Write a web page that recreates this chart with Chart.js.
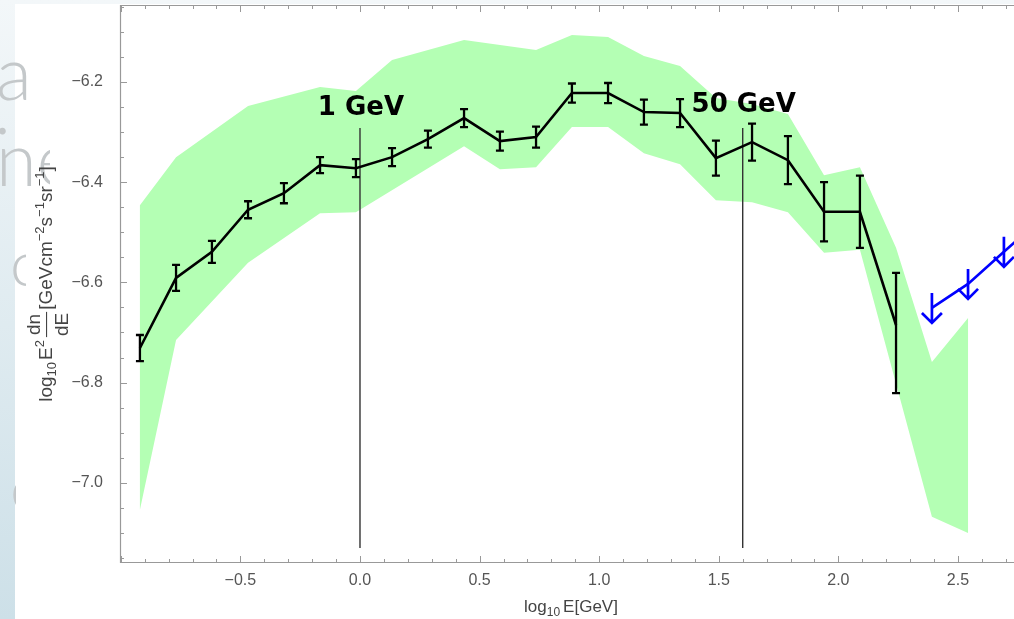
<!DOCTYPE html>
<html lang="en">
<head>
<meta charset="UTF-8">
<title>Spectrum</title>
<script src="https://cdn.jsdelivr.net/npm/chart.js"></script>
<style>
  html, body { margin: 0; padding: 0; width: 1014px; height: 619px; overflow: hidden; }
  body { position: relative; background: linear-gradient(#f3f7f9, #cde0e8); }
  .panel { position: absolute; left: 15px; top: 4px; right: 0; bottom: 0; background: #fff; }
  .slide { position: absolute; left: 0; overflow: hidden; white-space: nowrap;
           font-family: Lato, sans-serif; font-weight: 300; color: #c4c8ca; line-height: 1; }
  #chart { position: absolute; left: 0; top: 0; }
</style>
</head>
<body>
<div class="panel"></div>
<!-- bits of slide text behind the plot -->
<div class="slide" style="top:35px; left:-4px; width:50px; height:80px; font-size:74px">a</div>
<div class="slide" style="top:70px; left:-6px; width:20px; height:80px; font-size:72px">.</div>
<div class="slide" style="top:121px; left:-4px; width:54px; height:80px; font-size:74px">ne</div>
<div class="slide" style="top:230px; left:10px; width:16px; height:80px; font-size:64px">c</div>
<div class="slide" style="top:455px; left:10px; width:6px; height:80px; font-size:64px">e</div>

<canvas id="chart" width="1040" height="619"></canvas>

<script>
// data points (log10 E, log10 E^2 dN/dE) with error bars
const pointX = [-0.920, -0.769, -0.619, -0.468, -0.318, -0.167, -0.017, 0.134, 0.284, 0.435, 0.585,
                0.736, 0.886, 1.037, 1.187, 1.338, 1.488, 1.639, 1.789, 1.940, 2.090, 2.241];
const pointY = [-6.731, -6.591, -6.539, -6.455, -6.422, -6.366, -6.372, -6.350, -6.314, -6.272, -6.318,
                -6.310, -6.222, -6.222, -6.260, -6.262, -6.352, -6.320, -6.356, -6.459, -6.459, -6.685];
const errUp   = [0.026, 0.026, 0.022, 0.017, 0.020, 0.016, 0.018, 0.018, 0.017, 0.018, 0.019,
                 0.021, 0.019, 0.020, 0.025, 0.028, 0.035, 0.037, 0.048, 0.059, 0.072, 0.104];
const errDown = [0.026, 0.026, 0.022, 0.017, 0.020, 0.016, 0.018, 0.018, 0.017, 0.018, 0.019,
                 0.021, 0.019, 0.020, 0.025, 0.028, 0.035, 0.037, 0.048, 0.059, 0.072, 0.136];

// upper limits (blue arrows)
const limitX = [2.391, 2.542, 2.692, 2.842];
const limitY = [-6.651, -6.603, -6.539, -6.475];

// green band: upper edge left->right, lower edge right->left
const bandUpperX = [-0.920, -0.769, -0.468, -0.167, -0.017, 0.134, 0.435, 0.736, 0.886, 1.037,
                    1.187, 1.338, 1.488, 1.639, 1.789, 1.940, 2.090, 2.241, 2.391, 2.542];
const bandUpperY = [-6.446, -6.350, -6.248, -6.210, -6.218, -6.156, -6.116, -6.136, -6.106, -6.110,
                    -6.148, -6.168, -6.232, -6.244, -6.264, -6.386, -6.370, -6.531, -6.759, -6.671];
const bandLowerX = [2.542, 2.391, 2.090, 1.940, 1.789, 1.639, 1.488, 1.338, 1.187, 1.037,
                    0.886, 0.736, 0.585, 0.435, -0.017, -0.167, -0.468, -0.769, -0.920];
const bandLowerY = [-7.100, -7.068, -6.535, -6.541, -6.460, -6.440, -6.436, -6.364, -6.342, -6.290,
                    -6.290, -6.370, -6.374, -6.328, -6.460, -6.462, -6.561, -6.715, -7.054];

// energy markers
const markerX = [0, 1.6];
const markerText = ['1 GeV', '50 GeV'];
const markerLabelY = [-6.266, -6.260];
const markerTop = -6.292;
const markerBottom = -7.13;

const xTicks = [-0.5, 0, 0.5, 1.0, 1.5, 2.0, 2.5];
const yTicks = [-7.0, -6.8, -6.6, -6.4, -6.2];

const fmt = v => v.toFixed(1).replace('-', '\u2212');
const pts = (xs, ys) => xs.map((v, i) => ({x: v, y: ys[i]}));

const bandShape = pts(bandUpperX, bandUpperY).concat(pts(bandLowerX, bandLowerY));
bandShape.push(bandShape[0]);

const FONT = '"Liberation Sans", Arial, sans-serif';

// draws a run of text pieces, returns its width (only measures when draw = false)
function runText(ctx, parts, x0, y0, draw, big, small) {
  let x = x0;
  parts.forEach(p => {
    if (p.gap) { x += p.gap; return; }
    if (p.frac) {
      ctx.font = big + 'px ' + FONT;
      const w = Math.max(ctx.measureText(p.frac[0]).width, ctx.measureText(p.frac[1]).width) + 4;
      if (draw) {
        ctx.textAlign = 'center';
        ctx.fillText(p.frac[0], x + w / 2, y0 - 12);
        ctx.fillText(p.frac[1], x + w / 2, y0 + 16);
        ctx.textAlign = 'left';
        ctx.fillRect(x + 1, y0 - 6, w - 2, 1.1);
      }
      x += w;
      return;
    }
    ctx.font = (p.s ? small : big) + 'px ' + FONT;
    if (draw) ctx.fillText(p.t, x, y0 + (p.dy || 0));
    x += ctx.measureText(p.t).width;
  });
  return x - x0;
}

const yTitle = [
  {t: 'log'}, {t: '10', s: 1, dy: 4}, {gap: 2}, {t: 'E'}, {t: '2', s: 1, dy: -8}, {gap: 2},
  {frac: ['dn', 'dE']}, {gap: 1}, {t: '[GeVcm'}, {t: '\u22122', s: 1, dy: -8}, {t: 's'},
  {t: '\u22121', s: 1, dy: -8}, {t: 'sr'}, {t: '\u22121', s: 1, dy: -8}, {t: ']'}
];
const xTitle = [{t: 'log'}, {t: '10', s: 1, dy: 4}, {gap: 3}, {t: 'E[GeV]'}];

const decor = {
  id: 'decor',
  afterDatasetsDraw(chart) {
    const {ctx, chartArea: a} = chart;
    const x = chart.scales.x, y = chart.scales.y;
    ctx.save();
    ctx.beginPath();
    ctx.rect(a.left, a.top, a.right - a.left, a.bottom - a.top);
    ctx.clip();
    // error bars
    ctx.strokeStyle = '#000';
    ctx.lineWidth = 2.3;
    pointX.forEach((v, i) => {
      const px = x.getPixelForValue(v);
      const top = y.getPixelForValue(pointY[i] + errUp[i]);
      const bot = y.getPixelForValue(pointY[i] - errDown[i]);
      ctx.beginPath();
      ctx.moveTo(px, top); ctx.lineTo(px, bot);
      ctx.moveTo(px - 4, top); ctx.lineTo(px + 4, top);
      ctx.moveTo(px - 4, bot); ctx.lineTo(px + 4, bot);
      ctx.stroke();
    });
    // upper limit arrows
    ctx.strokeStyle = '#0000ff';
    ctx.lineWidth = 2.7;
    limitX.forEach((v, i) => {
      const px = x.getPixelForValue(v), py = y.getPixelForValue(limitY[i]);
      ctx.beginPath();
      ctx.moveTo(px, py - 15); ctx.lineTo(px, py + 15);
      ctx.moveTo(px - 10, py + 5); ctx.lineTo(px, py + 15); ctx.lineTo(px + 10, py + 5);
      ctx.stroke();
    });
    ctx.restore();

    // marker labels
    ctx.save();
    ctx.font = 'bold 26px "DejaVu Sans", sans-serif';
    ctx.fillStyle = '#000';
    ctx.textAlign = 'center';
    markerX.forEach((v, i) => {
      ctx.fillText(markerText[i], x.getPixelForValue(v) + 1, y.getPixelForValue(markerLabelY[i]));
    });
    ctx.restore();
  },
  afterDraw(chart) {
    const {ctx, chartArea: a} = chart;
    const x = chart.scales.x, y = chart.scales.y;
    ctx.save();
    // frame
    ctx.strokeStyle = '#999';
    ctx.lineWidth = 1.2;
    ctx.beginPath();
    ctx.moveTo(a.right, a.top + 0.5); ctx.lineTo(a.left + 0.5, a.top + 0.5);
    ctx.lineTo(a.left + 0.5, a.bottom - 0.5); ctx.lineTo(a.right, a.bottom - 0.5);
    ctx.stroke();
    // ticks pointing inwards
    ctx.lineWidth = 1;
    ctx.beginPath();
    for (let k = -10; k <= 27; k++) {
      const px = Math.round(x.getPixelForValue(k / 10)) + 0.5;
      const len = k % 5 === 0 ? 7 : 4;
      ctx.moveTo(px, a.bottom); ctx.lineTo(px, a.bottom - len);
      ctx.moveTo(px, a.top); ctx.lineTo(px, a.top + len);
    }
    for (let k = -143; k <= -121; k++) {
      const py = Math.round(y.getPixelForValue(k * 0.05)) + 0.5;
      const len = k % 4 === 0 ? 7 : 4;
      ctx.moveTo(a.left, py); ctx.lineTo(a.left + len, py);
    }
    ctx.stroke();

    // axis titles
    ctx.fillStyle = '#444';
    ctx.textBaseline = 'alphabetic';
    ctx.textAlign = 'left';
    const wx = runText(ctx, xTitle, 0, 0, false, 17, 12);
    runText(ctx, xTitle, (a.left + a.right) / 2 - wx / 2, 612, true, 17, 12);

    ctx.translate(52, (a.top + a.bottom) / 2);
    ctx.rotate(-Math.PI / 2);
    const wy = runText(ctx, yTitle, 0, 0, false, 19, 13);
    runText(ctx, yTitle, -wy / 2, 0, true, 19, 13);
    ctx.restore();
  }
};

const tickFont = {family: FONT, size: 16};

new Chart(document.getElementById('chart'), {
  type: 'scatter',
  data: {
    datasets: [
      {
        data: bandShape, showLine: true, fill: 'shape', borderWidth: 0,
        backgroundColor: 'rgb(180,255,180)', borderColor: 'rgba(0,0,0,0)',
        pointRadius: 0, order: 5
      },
      ...markerX.map(v => ({
        data: [{x: v, y: markerTop}, {x: v, y: markerBottom}], showLine: true,
        borderColor: '#333', borderWidth: 1.4, pointRadius: 0, order: 4
      })),
      {
        data: pts(pointX, pointY), showLine: true, borderColor: '#000', borderWidth: 2.6,
        pointRadius: 0, order: 2
      },
      {
        data: pts(limitX, limitY), showLine: true, borderColor: '#0000ff', borderWidth: 2.6,
        pointRadius: 0, order: 1
      }
    ]
  },
  options: {
    responsive: false,
    animation: false,
    layout: {padding: {top: 5, right: 18, bottom: 0, left: 0}},
    plugins: {legend: {display: false}, tooltip: {enabled: false}},
    scales: {
      x: {
        type: 'linear', min: -1.0033, max: 2.7676,
        grid: {display: false, drawTicks: false}, border: {display: false},
        afterBuildTicks: s => { s.ticks = xTicks.map(v => ({value: v})); },
        afterFit: s => { s.height = 56; s.paddingLeft = 0; s.paddingRight = 0; },
        ticks: {color: '#555', font: tickFont, padding: 8, autoSkip: false, maxRotation: 0,
                callback: v => fmt(v)}
      },
      y: {
        type: 'linear', min: -7.1601, max: -6.0463,
        grid: {display: false, drawTicks: false}, border: {display: false},
        afterBuildTicks: s => { s.ticks = yTicks.map(v => ({value: v})); },
        afterFit: s => { s.width = 120; s.paddingTop = 0; s.paddingBottom = 0; },
        ticks: {color: '#555', font: tickFont, padding: 17, callback: v => fmt(v)}
      }
    }
  },
  plugins: [decor]
});
</script>
</body>
</html>
